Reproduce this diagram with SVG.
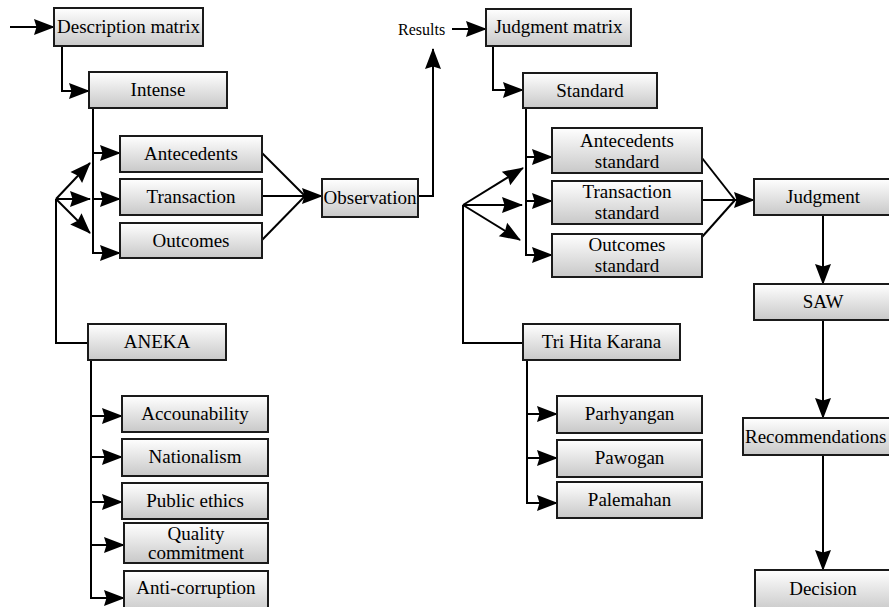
<svg xmlns="http://www.w3.org/2000/svg" width="889" height="607" viewBox="0 0 889 607">
<defs>
<linearGradient id="g" x1="0" y1="0" x2="0" y2="1">
<stop offset="0" stop-color="#ffffff"/>
<stop offset="1" stop-color="#c8c8c8"/>
</linearGradient>
<marker id="ah" markerUnits="userSpaceOnUse" viewBox="0 0 21 16" markerWidth="21" markerHeight="16" refX="20" refY="8" orient="auto" overflow="visible">
<path d="M0,0 L21,8 L0,16 L2.5,8 z" fill="#000"/>
</marker>
</defs>
<style>
.box{fill:url(#g);stroke:#1a1a1a;stroke-width:2}
.c{fill:none;stroke:#000;stroke-width:2}
.a{marker-end:url(#ah)}
</style>
<rect width="889" height="607" fill="#fff"/>
<g id="connectors">
<path class="c a" d="M10,27 H54"/>
<path class="c a" d="M62,46 V91 H89"/>
<path class="c a" d="M93,108 V253 H120"/>
<path class="c a" d="M93,153 H120"/>
<path class="c a" d="M93,199 H120"/>
<path class="c a" d="M56,199 L90,163"/>
<path class="c a" d="M56,199 H90"/>
<path class="c a" d="M56,199 L90,233"/>
<path class="c" d="M56,199 V343 H88"/>
<path class="c" d="M262,153 L305,196"/>
<path class="c a" d="M262,196 H322"/>
<path class="c" d="M262,240 L305,196"/>
<path class="c a" d="M418,196 H433 V49"/>
<path class="c a" d="M452,29 H486"/>
<path class="c a" d="M91,360 V598 H124"/>
<path class="c a" d="M91,416 H122"/>
<path class="c a" d="M91,457 H122"/>
<path class="c a" d="M91,502 H122"/>
<path class="c a" d="M91,545 H124"/>
<path class="c a" d="M493,46 V90 H523"/>
<path class="c a" d="M526,108 V255 H552"/>
<path class="c a" d="M526,157 H552"/>
<path class="c a" d="M526,201 H552"/>
<path class="c a" d="M463,205 L523,168"/>
<path class="c a" d="M463,205 H522"/>
<path class="c a" d="M463,205 L520,240"/>
<path class="c" d="M463,205 V343 H523"/>
<path class="c a" d="M527,360 V503 H557"/>
<path class="c a" d="M527,414 H557"/>
<path class="c a" d="M527,458 H557"/>
<path class="c" d="M702,158 L735,200"/>
<path class="c a" d="M702,200 H754"/>
<path class="c" d="M702,237 L735,200"/>
<path class="c a" d="M823,215 V284"/>
<path class="c a" d="M823,320 V418"/>
<path class="c a" d="M823,455 V570"/>
</g>
<g font-family="'Liberation Serif', 'Times New Roman', serif" fill="#000">
<text font-size="16" x="398" y="35">Results</text>
<g font-size="19" text-anchor="middle">
<g id="desc"><rect class="box" x="54" y="8" width="149" height="38"/><text x="128.5" y="33">Description matrix</text></g>
<g id="intense"><rect class="box" x="89" y="72" width="138" height="36"/><text x="158" y="96">Intense</text></g>
<g id="antecedents"><rect class="box" x="120" y="136" width="142" height="36"/><text x="191" y="160">Antecedents</text></g>
<g id="transaction"><rect class="box" x="120" y="179" width="142" height="36"/><text x="191" y="203">Transaction</text></g>
<g id="outcomes"><rect class="box" x="120" y="223" width="142" height="35"/><text x="191" y="247">Outcomes</text></g>
<g id="observation"><rect class="box" x="322" y="179" width="96" height="38"/><text x="370" y="204">Observation</text></g>
<g id="aneka"><rect class="box" x="88" y="324" width="138" height="36"/><text x="157" y="348">ANEKA</text></g>
<g id="accountability"><rect class="box" x="122" y="396" width="146" height="36"/><text x="195" y="420">Accounability</text></g>
<g id="nationalism"><rect class="box" x="122" y="439" width="146" height="37"/><text x="195" y="463">Nationalism</text></g>
<g id="ethics"><rect class="box" x="122" y="483" width="146" height="36"/><text x="195" y="507">Public ethics</text></g>
<g id="quality"><rect class="box" x="124" y="523" width="144" height="40"/><text x="196" y="540">Quality</text><text x="196" y="559">commitment</text></g>
<g id="anticorruption"><rect class="box" x="124" y="571" width="144" height="42"/><text x="196" y="594">Anti-corruption</text></g>
<g id="judgmatrix"><rect class="box" x="486" y="9" width="145" height="37"/><text x="558.5" y="33">Judgment matrix</text></g>
<g id="standard"><rect class="box" x="523" y="73" width="134" height="35"/><text x="590" y="97">Standard</text></g>
<g id="antstd"><rect class="box" x="552" y="128" width="150" height="45"/><text x="627" y="147">Antecedents</text><text x="627" y="168">standard</text></g>
<g id="transtd"><rect class="box" x="552" y="181" width="150" height="43"/><text x="627" y="198">Transaction</text><text x="627" y="219">standard</text></g>
<g id="outstd"><rect class="box" x="552" y="234" width="150" height="43"/><text x="627" y="251">Outcomes</text><text x="627" y="272">standard</text></g>
<g id="judgment"><rect class="box" x="754" y="179" width="140" height="36"/><text x="823" y="203">Judgment</text></g>
<g id="saw"><rect class="box" x="754" y="284" width="140" height="36"/><text x="823" y="308">SAW</text></g>
<g id="recommendations"><rect class="box" x="743" y="418" width="150" height="37"/><text x="745" y="443" text-anchor="start">Recommendations</text></g>
<g id="decision"><rect class="box" x="755" y="570" width="140" height="42"/><text x="823" y="595">Decision</text></g>
<g id="trihita"><rect class="box" x="523" y="324" width="157" height="36"/><text x="601.5" y="348">Tri Hita Karana</text></g>
<g id="parhyangan"><rect class="box" x="557" y="396" width="145" height="37"/><text x="629.5" y="420">Parhyangan</text></g>
<g id="pawogan"><rect class="box" x="557" y="440" width="145" height="37"/><text x="629.5" y="464">Pawogan</text></g>
<g id="palemahan"><rect class="box" x="557" y="482" width="145" height="36"/><text x="629.5" y="506">Palemahan</text></g>
</g>
</g>
</svg>
